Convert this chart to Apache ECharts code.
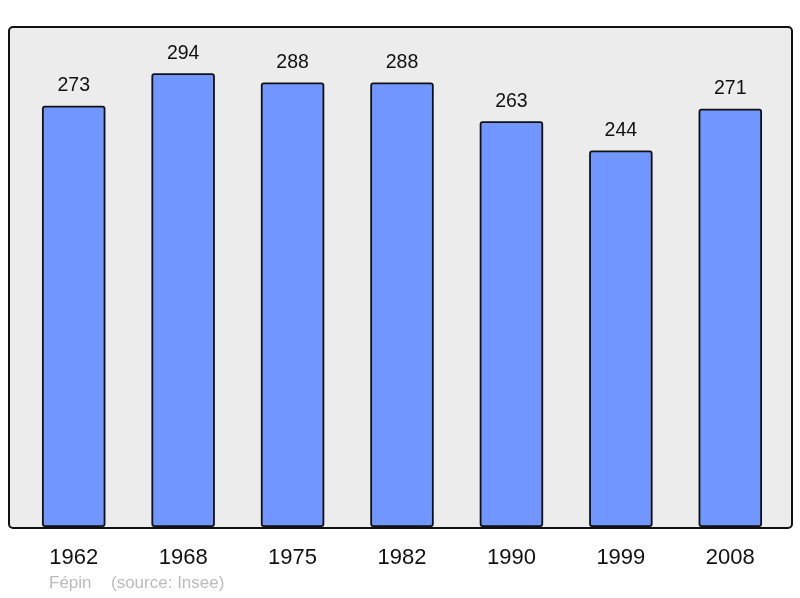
<!DOCTYPE html>
<html>
<head>
    <meta charset="utf-8">
    <title>Population</title>
    <script src="https://cdn.jsdelivr.net/npm/echarts@6/dist/echarts.min.js"></script>
</head>
<body style="margin:0">
    <div id="main" style="width: 800px;height: 598px;"></div>
    <script type="text/javascript">
        // years and population counts
        var years = ['1962', '1968', '1975', '1982', '1990', '1999', '2008'];
        var population = [273, 294, 288, 288, 263, 244, 271];

        var myChart = echarts.init(document.getElementById('main'));

        var option = {
            backgroundColor: '#ffffff',
            animation: false,
            grid: {
                left: 19,
                right: 15,
                top: 27,
                bottom: 71
            },
            graphic: [
                {
                    type: 'rect',
                    z: -10,
                    shape: { x: 9, y: 27, width: 783, height: 501, r: 4 },
                    style: { fill: '#ececec', stroke: '#111', lineWidth: 2 }
                },
                {
                    type: 'text',
                    left: 49,
                    top: 575,
                    style: {
                        text: 'Fépin',
                        fill: '#bbbbbb',
                        font: '17px "Liberation Sans", Arial, sans-serif'
                    }
                },
                {
                    type: 'text',
                    left: 111,
                    top: 575,
                    style: {
                        text: '(source: Insee)',
                        fill: '#bbbbbb',
                        font: '17px "Liberation Sans", Arial, sans-serif'
                    }
                }
            ],
            xAxis: {
                type: 'category',
                data: years,
                axisLine: { show: false },
                axisTick: { show: false },
                axisLabel: {
                    margin: 20,
                    color: '#111',
                    fontSize: 22,
                    fontFamily: 'Liberation Sans'
                }
            },
            yAxis: {
                type: 'value',
                min: 0,
                max: 324,
                show: false,
                splitLine: { show: false }
            },
            series: [{
                type: 'bar',
                data: population,
                barWidth: '58%',
                itemStyle: {
                    color: '#7196ff',
                    borderColor: '#111',
                    borderWidth: 1.8,
                    borderRadius: 2
                },
                label: {
                    show: true,
                    position: 'top',
                    distance: 10,
                    color: '#111',
                    fontSize: 19.5,
                    fontFamily: 'Liberation Sans'
                }
            }]
        };

        myChart.setOption(option);
    </script>
</body>
</html>
